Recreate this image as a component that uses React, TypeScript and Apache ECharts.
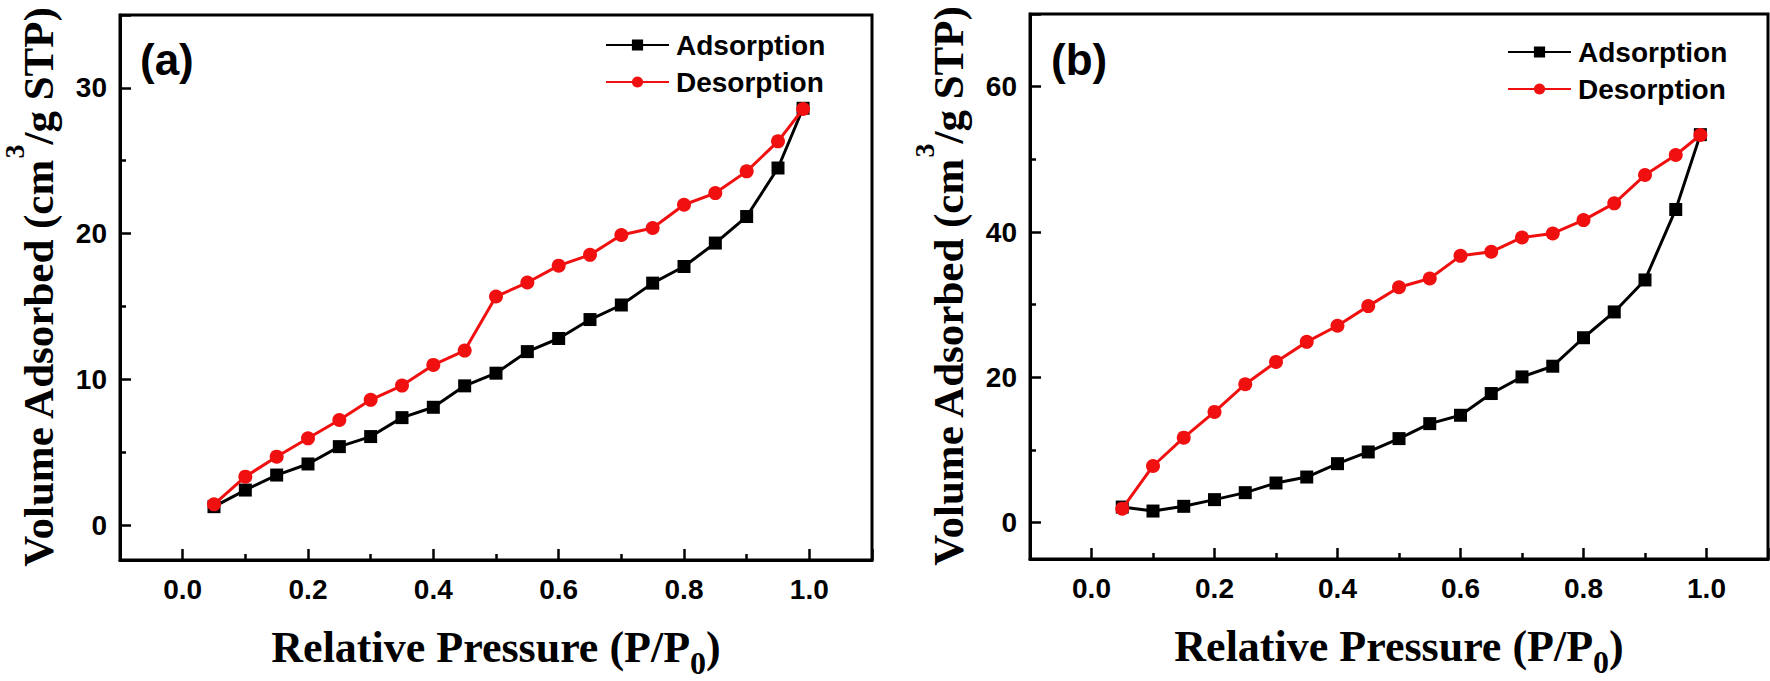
import React, { useEffect, useRef } from "react";
import * as echarts from "echarts";

const pressure = [0.05, 0.1, 0.15, 0.2, 0.25, 0.3, 0.35, 0.4, 0.45, 0.5, 0.55, 0.6, 0.65, 0.7, 0.75, 0.8, 0.85, 0.9, 0.95, 0.99];
const adsorptionA = [1.26, 2.4, 3.43, 4.19, 5.38, 6.07, 7.37, 8.08, 9.55, 10.42, 11.9, 12.8, 14.1, 15.1, 16.6, 17.74, 19.35, 21.17, 24.5, 28.6];
const desorptionA = [1.42, 3.32, 4.69, 5.95, 7.21, 8.59, 9.57, 10.99, 11.97, 15.68, 16.64, 17.8, 18.54, 19.9, 20.38, 21.98, 22.78, 24.27, 26.33, 28.55];
const adsorptionB = [2.15, 1.6, 2.25, 3.17, 4.13, 5.46, 6.28, 8.12, 9.73, 11.57, 13.63, 14.78, 17.77, 20.06, 21.53, 25.45, 29.0, 33.4, 43.1, 53.4];
const desorptionB = [1.93, 7.8, 11.7, 15.24, 19.05, 22.12, 24.88, 27.1, 29.8, 32.4, 33.6, 36.72, 37.28, 39.25, 39.8, 41.64, 43.94, 47.84, 50.6, 53.35];

const seriesNames = ["Adsorption", "Desorption"];
const panelLabels = ["(a)", "(b)"];
const xTitle = "{n|Relative Pressure (P/P}{sub|0}{n|)}";
const yTitle = "{m|Volume Adsorbed (cm}{sup|3}{m|/g STP)}";

const SANS = "Liberation Sans";
const SERIF = "Liberation Serif";
const RED = "#f01010";

const pairs = (xs: number[], ys: number[]) => xs.map((x, i) => [x, ys[i]]);

const isMultiple = (v: number, step: number) => Math.abs(v / step - Math.round(v / step)) < 1e-6;

const nameStyle = {
  fontFamily: SERIF,
  fontWeight: "bold",
  fontSize: 44,
  color: "#000",
  rich: {
    n: { fontFamily: SERIF, fontWeight: "bold", fontSize: 44, color: "#000" },
    m: { fontFamily: SERIF, fontWeight: "bold", fontSize: 43, color: "#000" },
    sup: { fontFamily: SERIF, fontWeight: "bold", fontSize: 28, color: "#000", padding: [0, 0, 49, 0] },
    sub: { fontFamily: SERIF, fontWeight: "bold", fontSize: 32, color: "#000", padding: [32, 0, 0, 0] },
  },
};

function makeX(gridIndex: number) {
  return {
    type: "value",
    gridIndex,
    min: -0.1,
    max: 1.1,
    splitNumber: 6,
    minInterval: 0.2,
    maxInterval: 0.2,
    name: xTitle,
    nameLocation: "middle",
    nameGap: 55,
    nameTextStyle: nameStyle,
    axisLine: { show: true, onZero: false, lineStyle: { color: "#000", width: 3 } },
    axisTick: { show: true, inside: true, length: 11, lineStyle: { color: "#000", width: 2.5 } },
    minorTick: { show: true, splitNumber: 2, length: 6, lineStyle: { color: "#000", width: 2.5 } },
    splitLine: { show: false },
    axisLabel: {
      margin: 15,
      fontFamily: SANS,
      fontWeight: "bold",
      fontSize: 28,
      color: "#000",
      formatter: (v: number) => (isMultiple(v, 0.2) ? v.toFixed(1) : ""),
    },
  };
}

function makeY(gridIndex: number, min: number, max: number, step: number, gap: number) {
  return {
    type: "value",
    gridIndex,
    min,
    max,
    splitNumber: 4,
    minInterval: step,
    maxInterval: step,
    name: yTitle,
    nameLocation: "middle",
    nameRotate: 90,
    nameGap: gap,
    nameTextStyle: nameStyle,
    axisLine: { show: true, onZero: false, lineStyle: { color: "#000", width: 3 } },
    axisTick: { show: true, inside: true, length: 11, lineStyle: { color: "#000", width: 2.5 } },
    minorTick: { show: true, splitNumber: 2, length: 6, lineStyle: { color: "#000", width: 2.5 } },
    splitLine: { show: false },
    axisLabel: {
      margin: 13,
      fontFamily: SANS,
      fontWeight: "bold",
      fontSize: 28,
      color: "#000",
      formatter: (v: number) => (isMultiple(v, step) ? String(Math.round(v)) : ""),
    },
  };
}

function makeSeries(name: string, xi: number, data: number[][], isAds: boolean) {
  const color = isAds ? "#000" : RED;
  return {
    name,
    type: "line",
    xAxisIndex: xi,
    yAxisIndex: xi,
    data,
    symbol: isAds ? "rect" : "circle",
    symbolSize: isAds ? 13 : 14,
    itemStyle: { color },
    lineStyle: { color, width: 3 },
    z: isAds ? 2 : 3,
  };
}

function makeLegend(left: number, top: number, gap: number) {
  return {
    orient: "vertical",
    left,
    top,
    padding: 0,
    itemGap: gap,
    itemWidth: 63,
    itemHeight: 14,
    data: seriesNames,
    textStyle: { fontFamily: SANS, fontWeight: "bold", fontSize: 28, color: "#000", lineHeight: 28, padding: [0, 0, 0, 2] },
  };
}

export default function App() {
  const ref = useRef<HTMLDivElement>(null);
  useEffect(() => {
    if (!ref.current) return;
    const chart = echarts.init(ref.current, null, { renderer: "svg" });
    chart.setOption({
      animation: false,
      backgroundColor: "#fff",
      grid: [
        { left: 120, top: 15, width: 752, height: 545, show: true, borderColor: "#000", borderWidth: 3, backgroundColor: "transparent", containLabel: false, outerBoundsMode: "none" },
        { left: 1030, top: 14, width: 738, height: 545, show: true, borderColor: "#000", borderWidth: 3, backgroundColor: "transparent", containLabel: false, outerBoundsMode: "none" },
      ],
      xAxis: [makeX(0), makeX(1)],
      yAxis: [makeY(0, -2.4, 35, 10, 43), makeY(1, -5, 70, 20, 43)],
      legend: [makeLegend(605, 31, 9), makeLegend(1507, 38, 9)],
      series: [
        makeSeries(seriesNames[0], 0, pairs(pressure, adsorptionA), true),
        makeSeries(seriesNames[1], 0, pairs(pressure, desorptionA), false),
        makeSeries(seriesNames[0], 1, pairs(pressure, adsorptionB), true),
        makeSeries(seriesNames[1], 1, pairs(pressure, desorptionB), false),
      ],
      graphic: [
        { type: "text", left: 140, top: 37, style: { text: panelLabels[0], fontFamily: SANS, fontWeight: "bold", fontSize: 44, fill: "#000" } },
        { type: "text", left: 1051, top: 37, style: { text: panelLabels[1], fontFamily: SANS, fontWeight: "bold", fontSize: 44, fill: "#000" } },
      ],
    });
    return () => chart.dispose();
  }, []);
  return <div ref={ref} style={{ position: "fixed", left: 0, top: 0, width: 1770, height: 681 }} />;
}
